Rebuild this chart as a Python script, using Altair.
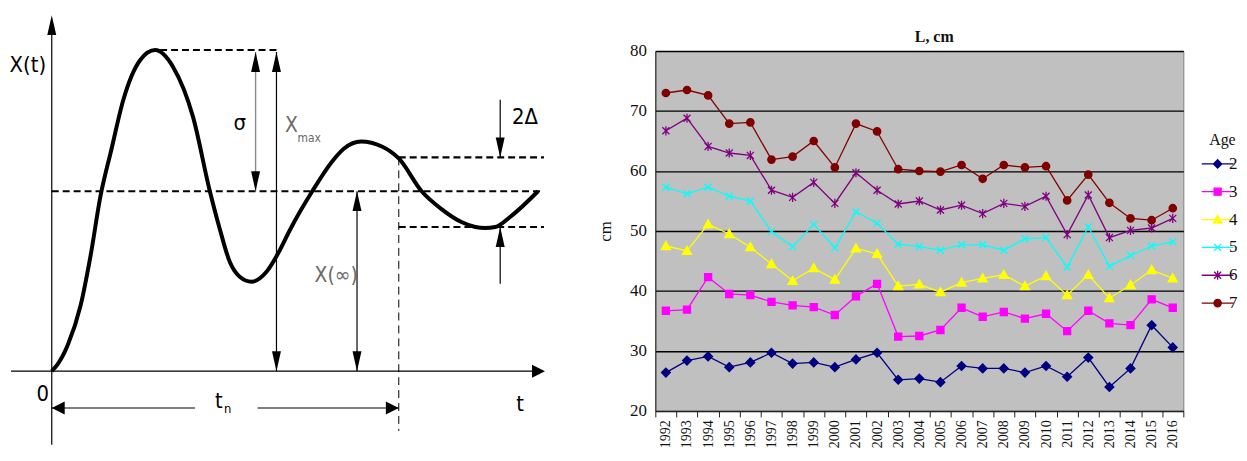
import altair as alt
import pandas as pd

# ---------------- right chart data ----------------
years = [str(y) for y in range(1992, 2017)]
ages = ["2", "3", "4", "5", "6", "7"]
age2 = [26.4, 28.4, 29.1, 27.3, 28.1, 29.7, 27.9, 28.1, 27.3, 28.6, 29.7, 25.2, 25.4,
        24.8, 27.5, 27.1, 27.1, 26.4, 27.5, 25.7, 28.9, 24.0, 27.1, 34.3, 30.6]
age3 = [36.7, 36.9, 42.3, 39.5, 39.3, 38.2, 37.6, 37.3, 36.0, 39.1, 41.2, 32.4, 32.5,
        33.5, 37.2, 35.7, 36.5, 35.4, 36.2, 33.3, 36.7, 34.6, 34.3, 38.6, 37.2]
age4 = [47.5, 46.7, 51.1, 49.5, 47.3, 44.5, 41.7, 43.8, 41.9, 47.1, 46.2, 40.8, 41.1,
        39.8, 41.4, 42.1, 42.7, 40.8, 42.5, 39.3, 42.7, 38.8, 41.0, 43.5, 42.1]
age5 = [57.3, 56.2, 57.3, 55.8, 55.0, 49.9, 47.4, 51.1, 47.2, 53.2, 51.3, 47.8, 47.4,
        46.8, 47.7, 47.7, 46.8, 48.7, 48.9, 44.0, 50.7, 44.1, 45.9, 47.5, 48.2]
age6 = [66.7, 68.8, 64.1, 63.0, 62.6, 56.8, 55.6, 58.1, 54.6, 59.7, 56.8, 54.5, 55.0,
        53.5, 54.3, 52.9, 54.6, 54.1, 55.8, 49.4, 56.0, 48.9, 50.1, 50.5, 52.1]
age7 = [73.0, 73.5, 72.6, 67.9, 68.1, 61.9, 62.4, 65.0, 60.6, 67.9, 66.6, 60.3, 60.0,
        59.9, 61.0, 58.7, 61.0, 60.6, 60.8, 55.1, 59.4, 54.7, 52.1, 51.8, 53.8]
y_ticks = [20, 30, 40, 50, 60, 70, 80]

colors = ["#000080", "#FF00FF", "#FFFF00", "#00FFFF", "#800080", "#800000"]
marker_paths = [
    "M0,-1.25L1.25,0L0,1.25L-1.25,0Z",
    "M-1,-1H1V1H-1Z",
    "M0,-1.3L1.3,1L-1.3,1Z",
    "M-1,-1L1,1M-1,1L1,-1",
    "M-1,-1L1,1M-1,1L1,-1M0,-1.3V1.3",
    "M-1.05,0A1.05,1.05,0,1,1,1.05,0A1.05,1.05,0,1,1,-1.05,0Z",
]
legend_paths = [
    "M-5,0H5M0,-1.3L1.3,0L0,1.3L-1.3,0Z",
    "M-5,0H5M-1.1,-1.1H1.1V1.1H-1.1Z",
    "M-5,0H5M0,-1.35L1.35,1.05L-1.35,1.05Z",
    "M-5,0H5M-1.1,-1.1L1.1,1.1M-1.1,1.1L1.1,-1.1",
    "M-5,0H5M-1.1,-1.1L1.1,1.1M-1.1,1.1L1.1,-1.1M0,-1.4V1.4",
    "M-5,0H5M-1.15,0A1.15,1.15,0,1,1,1.15,0A1.15,1.15,0,1,1,-1.15,0Z",
]

rows = []
for a, vals in zip(ages, [age2, age3, age4, age5, age6, age7]):
    for yr, v in zip(years, vals):
        rows.append({"Year": yr, "Age": a, "L": v})
df = pd.DataFrame(rows)

SERIF = "Liberation Serif"


def fsc():
    return alt.Scale(domain=ages, range=colors)


x_enc = alt.X("Year:O", sort=years,
              scale=alt.Scale(type="band", paddingInner=0, paddingOuter=0),
              axis=alt.Axis(title=None, labelAngle=270, tickBand="extent", tickSize=6,
                            tickColor="#222", domainColor="#222", labelFont=SERIF,
                            labelFontSize=14, labelColor="#111", labelPadding=3,
                            grid=False))
y_enc = alt.Y("L:Q", scale=alt.Scale(domain=[20, 80], nice=False, zero=False),
              axis=alt.Axis(values=y_ticks, title="cm", titleFont=SERIF,
                            titleFontSize=17, titleFontWeight="normal", titleColor="#111",
                            titlePadding=15, labelFont=SERIF, labelFontSize=17,
                            labelColor="#111", labelPadding=9, tickSize=0,
                            domainColor="#222", grid=True, gridColor="#000",
                            gridWidth=1.4))

base = alt.Chart(df)
lines = base.mark_line(strokeWidth=1.3).encode(
    x=x_enc, y=y_enc,
    stroke=alt.Stroke("Age:N", scale=fsc(), legend=None),
)
point_layers = []
for a, p in zip(ages, marker_paths):
    point_layers.append(
        base.transform_filter(alt.datum.Age == a).mark_point(
            shape=p, filled=True, size=50, strokeWidth=1.3, opacity=1
        ).encode(
            x=x_enc, y=y_enc,
            fill=alt.Fill("Age:N", scale=fsc(), legend=None),
            stroke=alt.Stroke("Age:N", scale=fsc(), legend=None),
        )
    )
leg = alt.Legend(title="Age", orient="none", legendX=557, legendY=82, padding=0,
                 titleFont=SERIF, titleFontSize=16, titleFontWeight="normal",
                 titleColor="#111", titlePadding=7, labelFont=SERIF, labelFontSize=17,
                 labelColor="#111", symbolSize=41, symbolStrokeWidth=1.3,
                 labelOffset=3, rowPadding=10)
legend_layer = base.transform_filter("false").mark_point(
    filled=True, strokeWidth=1.3, opacity=1
).encode(
    x=x_enc, y=y_enc,
    fill=alt.Fill("Age:N", scale=fsc(), legend=leg),
    stroke=alt.Stroke("Age:N", scale=fsc(), legend=leg),
    shape=alt.Shape("Age:N", scale=alt.Scale(domain=ages, range=legend_paths), legend=leg),
)
right = alt.layer(lines, *point_layers, legend_layer).resolve_scale(
    fill="independent", stroke="independent", shape="independent"
).properties(
    width=531, height=362,
    title=alt.TitleParams([" ", "L, cm"], font=SERIF, fontSize=16, fontWeight="bold",
                          color="#111", anchor="middle", dx=15, offset=-3,
                          frame="group", lineHeight=19),
    view=alt.ViewBackground(fill="#C0C0C0", stroke="#808080", strokeWidth=1),
)

# ---------------- left diagram data (t, X units) ----------------
curve_t = [0, 6, 16, 29, 39, 49, 60, 72, 89, 104, 122, 142, 159, 169, 179, 189, 201,
           216, 229, 239, 250, 262, 282, 294, 311, 332, 349, 372, 392, 412, 426, 436,
           446, 462, 489]
curve_X = [0, 7, 26, 66, 116, 176, 223, 273, 313, 323, 306, 256, 181, 143, 110, 95, 90,
           100, 121, 141, 161, 181, 211, 224, 231, 226, 214, 181, 163, 150, 145, 144,
           145, 156, 181]

solid_t1 = [0, -41, 226, 307, 451, 451, 0, 207]
solid_t2 = [0, 486, 226, 307, 451, 451, 144, 349]
solid_X1 = [-74, 0, 0, 0, 273, 88, -37, -37]
solid_X2 = [340, 0, 321, 181, 215, 145, -37, -37]

gray_t1 = [205]
gray_t2 = [205]
gray_X1 = [181]
gray_X2 = [321]

dash_t1 = [0, 109, 349, 349]
dash_t2 = [495, 226, 495, 495]
dash_X1 = [181, 323, 215, 145]
dash_X2 = [181, 323, 215, 145]

thin_t1 = [349]
thin_t2 = [349]
thin_X1 = [215]
thin_X2 = [-60]

headv_t = [0, 205, 205, 226, 226, 307, 307, 451, 451]
headv_X = [358, 321, 181, 321, 0, 181, 0, 215, 145]
headv_dir = ["up", "up", "down", "up", "down", "up", "down", "down", "up"]
headh_t = [496, 0, 349]
headh_X = [0, -37, -37]
headh_dir = ["right", "left", "right"]
head_dirs = ["up", "down", "left", "right"]
head_paths = ["M0,0L0.45,2L-0.45,2Z", "M0,0L0.45,-2L-0.45,-2Z",
              "M0,0L2,1L2,-1Z", "M0,0L-2,1L-2,-1Z"]

lab_text = ["X(t)", "0", "t", "t", "σ", "2Δ"]
lab_t = [-24, -9, 471, 168, 189, 476]
lab_X = [308, -23, -33, -30, 250, 256]
sub_text = ["n"]
sub_t = [177]
sub_X = [-38]
gray_text = ["X", "X(∞)"]
gray_tt = [241, 286]
gray_XX = [247, 96]
gsub_text = ["max"]
gsub_t = [259]
gsub_X = [235]

SANS = "Liberation Sans Narrow, DejaVu Sans Condensed, Liberation Sans"
xs = alt.Scale(domain=[-43, 505], nice=False, zero=False)
ys = alt.Scale(domain=[-80, 322], nice=False, zero=False)


def seg_layer(t1, t2, X1, X2, **mk):
    d = pd.DataFrame({"t": t1, "t2": t2, "X": X1, "X2": X2})
    return alt.Chart(d).mark_rule(**mk).encode(
        x=alt.X("t:Q", scale=xs, axis=None), x2="t2:Q",
        y=alt.Y("X:Q", scale=ys, axis=None), y2="X2:Q")


def text_layer(txt, t, X, **mk):
    d = pd.DataFrame({"t": t, "X": X, "txt": txt})
    return alt.Chart(d).mark_text(font=SANS, **mk).encode(
        x=alt.X("t:Q", scale=xs, axis=None), y=alt.Y("X:Q", scale=ys, axis=None),
        text="txt:N")


def head_layer(t, X, dirs, size):
    d = pd.DataFrame({"t": t, "X": X, "dir": dirs})
    return alt.Chart(d).mark_point(filled=True, color="black", size=size, opacity=1).encode(
        x=alt.X("t:Q", scale=xs, axis=None), y=alt.Y("X:Q", scale=ys, axis=None),
        shape=alt.Shape("dir:N", scale=alt.Scale(domain=head_dirs, range=head_paths),
                        legend=None))


curve = alt.Chart(pd.DataFrame({"t": curve_t, "X": curve_X})).mark_line(
    color="black", strokeWidth=4, interpolate="monotone").encode(
    x=alt.X("t:Q", scale=xs, axis=None), y=alt.Y("X:Q", scale=ys, axis=None))

left = alt.layer(
    seg_layer(dash_t1, dash_t2, dash_X1, dash_X2, color="black", strokeWidth=2.2,
              strokeDash=[7, 4]),
    seg_layer(thin_t1, thin_t2, thin_X1, thin_X2, color="black", strokeWidth=1,
              strokeDash=[8, 5]),
    seg_layer(solid_t1, solid_t2, solid_X1, solid_X2, color="black", strokeWidth=1.2),
    seg_layer(gray_t1, gray_t2, gray_X1, gray_X2, color="#8a8a8a", strokeWidth=1.4),
    curve,
    head_layer(headv_t, headv_X, headv_dir, 400),
    head_layer(headh_t, headh_X, headh_dir, 169),
    text_layer(lab_text, lab_t, lab_X, fontSize=22, color="black"),
    text_layer(sub_text, sub_t, sub_X, fontSize=13, color="black"),
    text_layer(gray_text, gray_tt, gray_XX, fontSize=21, color="#6a6a6a"),
    text_layer(gsub_text, gsub_t, gsub_X, fontSize=12, color="#6a6a6a"),
).properties(width=548, height=402,
             view=alt.ViewBackground(stroke="transparent"))

chart = alt.hconcat(left, right, spacing=41).properties(padding=0).configure(
    background="white")

chart.save("out.html", embed_options={"renderer": "svg", "actions": False})
